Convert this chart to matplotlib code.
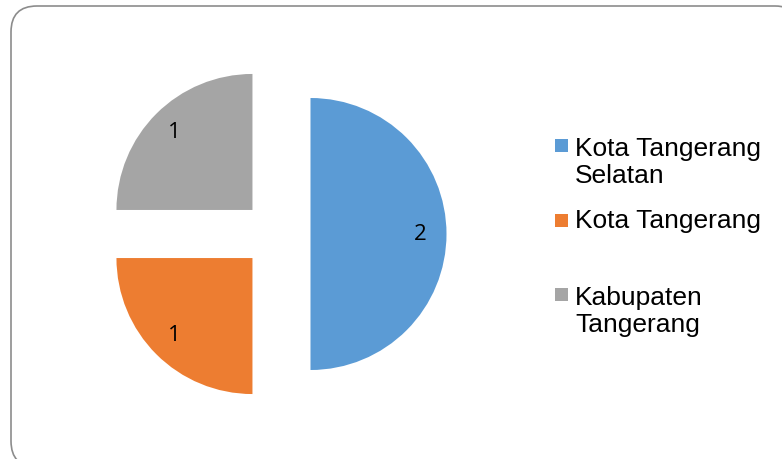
import textwrap
import matplotlib
matplotlib.use('Agg')
import matplotlib.pyplot as plt
from matplotlib.patches import FancyBboxPatch, Rectangle

categories = ['Kota Tangerang Selatan', 'Kota Tangerang', 'Kabupaten Tangerang']
values = [2, 1, 1]
colors = ['#5B9BD5', '#ED7D31', '#A5A5A5']

W, H = 782, 459
fig = plt.figure(figsize=(W / 100, H / 100), dpi=100)
ax = fig.add_axes([0, 0, 1, 1])

# rounded chart border (runs off the right/bottom edge)
border = FancyBboxPatch((11, -8), 790, H - 6 + 8, boxstyle='round,pad=0,rounding_size=26',
                        facecolor='white', edgecolor='#8c8c8c', linewidth=1.2, zorder=0)
ax.add_patch(border)

# pie, every slice pulled out
radius = 136
wedges, texts, autotexts = ax.pie(values, colors=colors, startangle=90, counterclock=False,
                                  radius=radius, center=(276.5, H - 234),
                                  explode=[34, 34, 34], frame=True,
                                  autopct=lambda p: '%d' % round(p * sum(values) / 100),
                                  pctdistance=0.81,
                                  wedgeprops=dict(linewidth=0),
                                  textprops=dict(fontsize=16, color='black', family='Open Sans'))
ax.set_xlim(0, W)
ax.set_ylim(0, H)
ax.set_aspect('equal')
ax.axis('off')

# legend, wrapped like the original
marker_y = [145, 220, 294]
line_h = 30
for cat, col, my in zip(categories, colors, marker_y):
    ax.add_patch(Rectangle((555, H - my - 6.5), 13, 13, facecolor=col, edgecolor='none'))
    lbl = textwrap.fill(cat, 15)
    n = lbl.count('\n')
    ax.text(575, H - (my + 8 + n * line_h), lbl, fontsize=19, family='Liberation Sans',
            va='baseline', ha='left', linespacing=1.15)

fig.savefig('out.png', dpi=100)
